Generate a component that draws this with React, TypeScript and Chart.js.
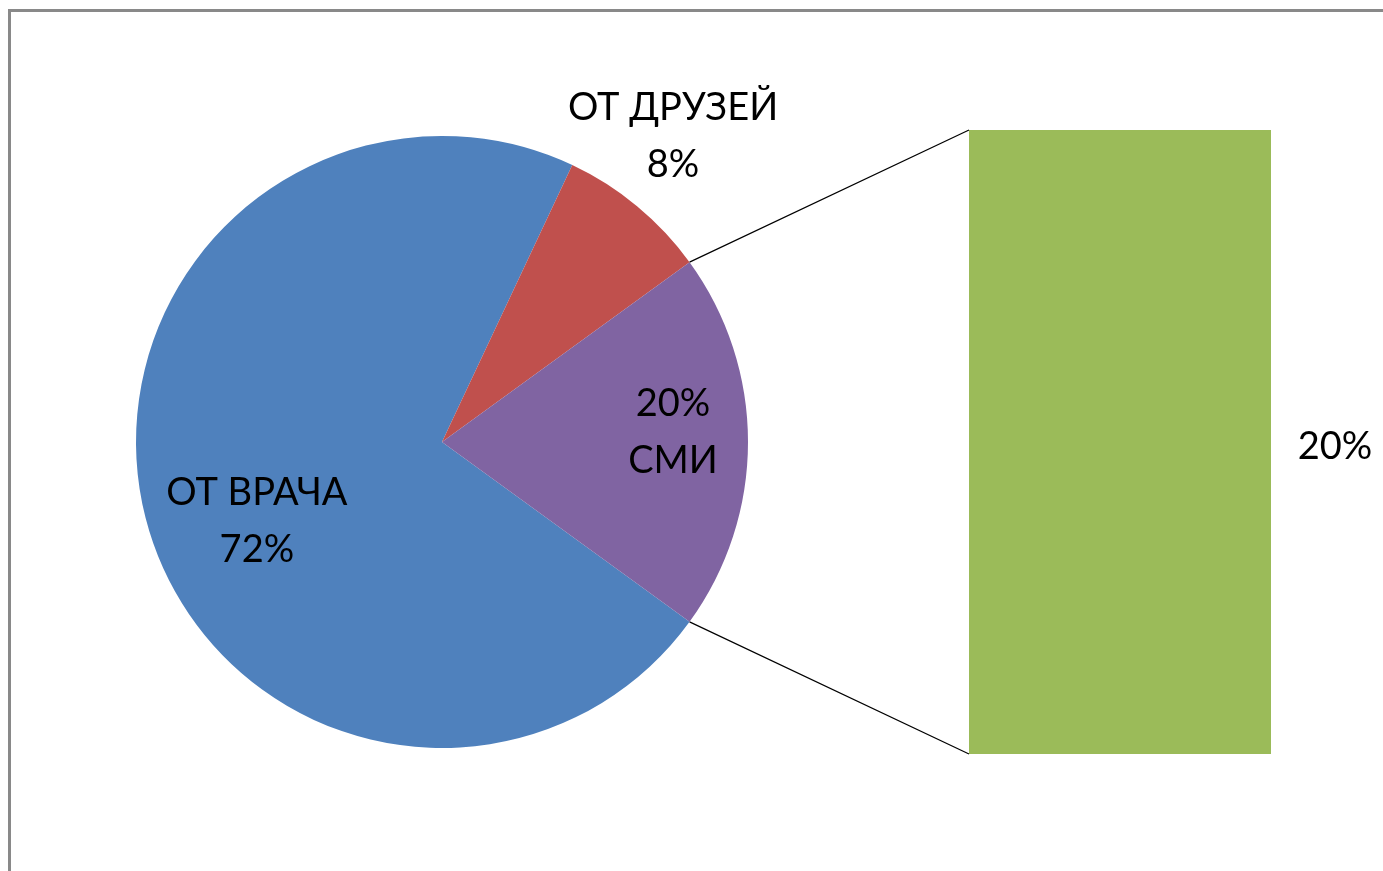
import React, { useEffect, useRef } from "react";
import { Chart, registerables } from "chart.js";

Chart.register(...registerables);

// ---- data ----
const categories = ["ОТ ВРАЧА", "ОТ ДРУЗЕЙ", "СМИ"];
const values = [72, 8, 20];
const sliceColors = ["#4F81BD", "#C0504D", "#8064A2"];
const barCategories = ["СМИ"];
const barValues = [20];
const barColor = "#9BBB59";
const pieLabelLines = [
  ["ОТ ВРАЧА", "72%"],
  ["ОТ ДРУЗЕЙ", "8%"],
  ["20%", "СМИ"],
];
const barLabel = "20%";

// label anchors as offsets from pie centre, in radius units (layout only)
const labelAnchors = [
  [-0.605, 0.258],
  [0.755, -1.0],
  [0.755, -0.033],
];

const W = 1383;
const H = 871;
const FONT = "38px Lato";
const LINE_H = 57;

export default function App() {
  const pieRef = useRef<HTMLCanvasElement>(null);
  const barRef = useRef<HTMLCanvasElement>(null);

  useEffect(() => {
    if (!pieRef.current || !barRef.current) return;

    // rotation so that the СМИ slice is centred on the right-hand horizontal
    const total = values.reduce((a, b) => a + b, 0);
    const before = values[0] + values[1];
    const smiDeg = (values[2] / total) * 360;
    const beforeDeg = (before / total) * 360;
    // start angle (screen) = 90deg - smi/2 ... we need end of blue+red at -smi/2
    const startScreen = -smiDeg / 2 - beforeDeg; // degrees, 0 = right
    const rotation = startScreen + 90;

    const pieLabels = {
      id: "pieLabels",
      afterDatasetsDraw(chart: any) {
        const ctx = chart.ctx;
        const meta = chart.getDatasetMeta(0);
        ctx.save();
        ctx.font = FONT;
        ctx.fillStyle = "#000";
        ctx.textAlign = "center";
        ctx.textBaseline = "middle";
        meta.data.forEach((arc: any, i: number) => {
          const r = arc.outerRadius;
          const cx = arc.x + labelAnchors[i][0] * r;
          const cy = arc.y + labelAnchors[i][1] * r;
          const lines = pieLabelLines[i];
          lines.forEach((t, j) => {
            ctx.fillText(t, cx, cy + (j - (lines.length - 1) / 2) * LINE_H);
          });
        });
        ctx.restore();
      },
    };

    const pie = new Chart(pieRef.current, {
      type: "pie",
      data: {
        labels: categories,
        datasets: [
          {
            data: values,
            backgroundColor: sliceColors,
            borderWidth: 0,
          },
        ],
      },
      options: {
        responsive: false,
        animation: false,
        rotation,
        layout: { padding: { left: 136, right: W - 748, top: 136, bottom: H - 748 } },
        plugins: { legend: { display: false }, tooltip: { enabled: false } },
      },
      plugins: [pieLabels],
    });

    const connectors = {
      id: "connectors",
      afterDatasetsDraw(chart: any) {
        const ctx = chart.ctx;
        const bar = chart.getDatasetMeta(0).data[0];
        const arc: any = pie.getDatasetMeta(0).data[2];
        const x0 = bar.x - bar.width / 2;
        const x1 = bar.x + bar.width / 2;
        const top = Math.min(bar.y, bar.base);
        const bottom = Math.max(bar.y, bar.base);
        const p1 = [arc.x + arc.outerRadius * Math.cos(arc.startAngle), arc.y + arc.outerRadius * Math.sin(arc.startAngle)];
        const p2 = [arc.x + arc.outerRadius * Math.cos(arc.endAngle), arc.y + arc.outerRadius * Math.sin(arc.endAngle)];
        ctx.save();
        ctx.strokeStyle = "#000";
        ctx.lineWidth = 1.2;
        ctx.beginPath();
        ctx.moveTo(p1[0], p1[1]);
        ctx.lineTo(x0, top);
        ctx.moveTo(p2[0], p2[1]);
        ctx.lineTo(x0, bottom);
        ctx.stroke();
        ctx.font = FONT;
        ctx.fillStyle = "#000";
        ctx.textAlign = "center";
        ctx.textBaseline = "middle";
        ctx.fillText(barLabel, x1 + 64, (top + bottom) / 2 + 5);
        ctx.restore();
      },
    };

    const barChart = new Chart(barRef.current, {
      type: "bar",
      data: {
        labels: barCategories,
        datasets: [
          {
            data: barValues,
            backgroundColor: barColor,
            borderWidth: 0,
            categoryPercentage: 1,
            barPercentage: 1,
          },
        ],
      },
      options: {
        responsive: false,
        animation: false,
        layout: { padding: { left: 969, right: W - 1271, top: 130, bottom: H - 754 } },
        scales: {
          x: { display: false },
          y: { display: false, min: 0, max: barValues[0] },
        },
        plugins: { legend: { display: false }, tooltip: { enabled: false } },
      },
      plugins: [connectors],
    });

    return () => {
      barChart.destroy();
      pie.destroy();
    };
  }, []);

  return (
    <div style={{ position: "fixed", left: 0, top: 0, width: W, height: H, background: "#fff", overflow: "hidden" }}>
      <div
        style={{
          position: "absolute",
          left: 8,
          top: 9,
          width: W,
          height: H,
          borderTop: "3px solid #898989",
          borderLeft: "3px solid #898989",
        }}
      />
      <canvas ref={pieRef} width={W} height={H} style={{ position: "absolute", left: 0, top: 0 }} />
      <canvas ref={barRef} width={W} height={H} style={{ position: "absolute", left: 0, top: 0 }} />
    </div>
  );
}
